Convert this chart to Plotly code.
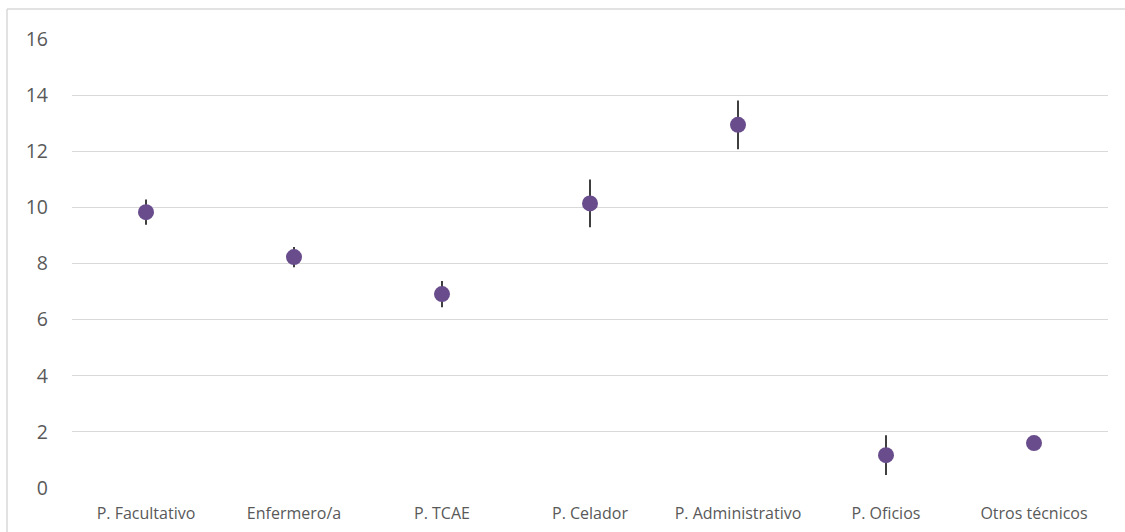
import plotly.graph_objects as go

categories = ["P. Facultativo", "Enfermero/a", "P. TCAE", "P. Celador",
              "P. Administrativo", "P. Oficios", "Otros técnicos"]
values = [9.83, 8.23, 6.91, 10.14, 12.94, 1.17, 1.60]
errors = [0.45, 0.36, 0.47, 0.85, 0.87, 0.71, 0.22]
y_ticks = [0, 2, 4, 6, 8, 10, 12, 14, 16]

fig = go.Figure()
fig.add_trace(go.Scatter(
    x=categories, y=values, mode="markers",
    marker=dict(color="#684C8C", size=16, line=dict(width=0)),
    error_y=dict(type="data", array=errors, visible=True,
                 color="#3F3F3F", thickness=2, width=0),
    showlegend=False,
))

W, H = 1125, 532
ml, mr, mt, mb = 72, 17, 39, 44
pw, ph = W - ml - mr, H - mt - mb

def px(x):
    return (x - ml) / pw

def py(y):
    return (H - mb - y) / ph

fig.update_layout(
    width=W, height=H,
    margin=dict(l=ml, r=mr, t=mt, b=mb),
    paper_bgcolor="white", plot_bgcolor="white",
    font=dict(family="Open Sans, Calibri, sans-serif", color="#595959"),
    xaxis=dict(showgrid=False, showline=False, zeroline=False,
               tickfont=dict(size=16, color="#595959"), ticks="",
               range=[-0.5, 6.5], ticklabelstandoff=14, automargin=False),
    yaxis=dict(range=[0, 16], tickvals=y_ticks, showgrid=True,
               gridcolor="#D9D9D9", gridwidth=1, zeroline=False,
               showline=False, tickfont=dict(size=19.5, color="#595959"),
               ticks="", ticklabelstandoff=23, automargin=False),
    shapes=[
        dict(type="line", xref="paper", yref="paper",
             x0=px(7), x1=px(W + 5), y0=py(9), y1=py(9),
             line=dict(color="#D9D9D9", width=1.5)),
        dict(type="line", xref="paper", yref="paper",
             x0=px(7), x1=px(7), y0=py(9), y1=py(H + 5),
             line=dict(color="#D9D9D9", width=1.5)),
    ],
)

fig.write_html("out.html", config={"displayModeBar": False},
               post_script="document.body.style.margin='0';document.body.style.padding='0';")
